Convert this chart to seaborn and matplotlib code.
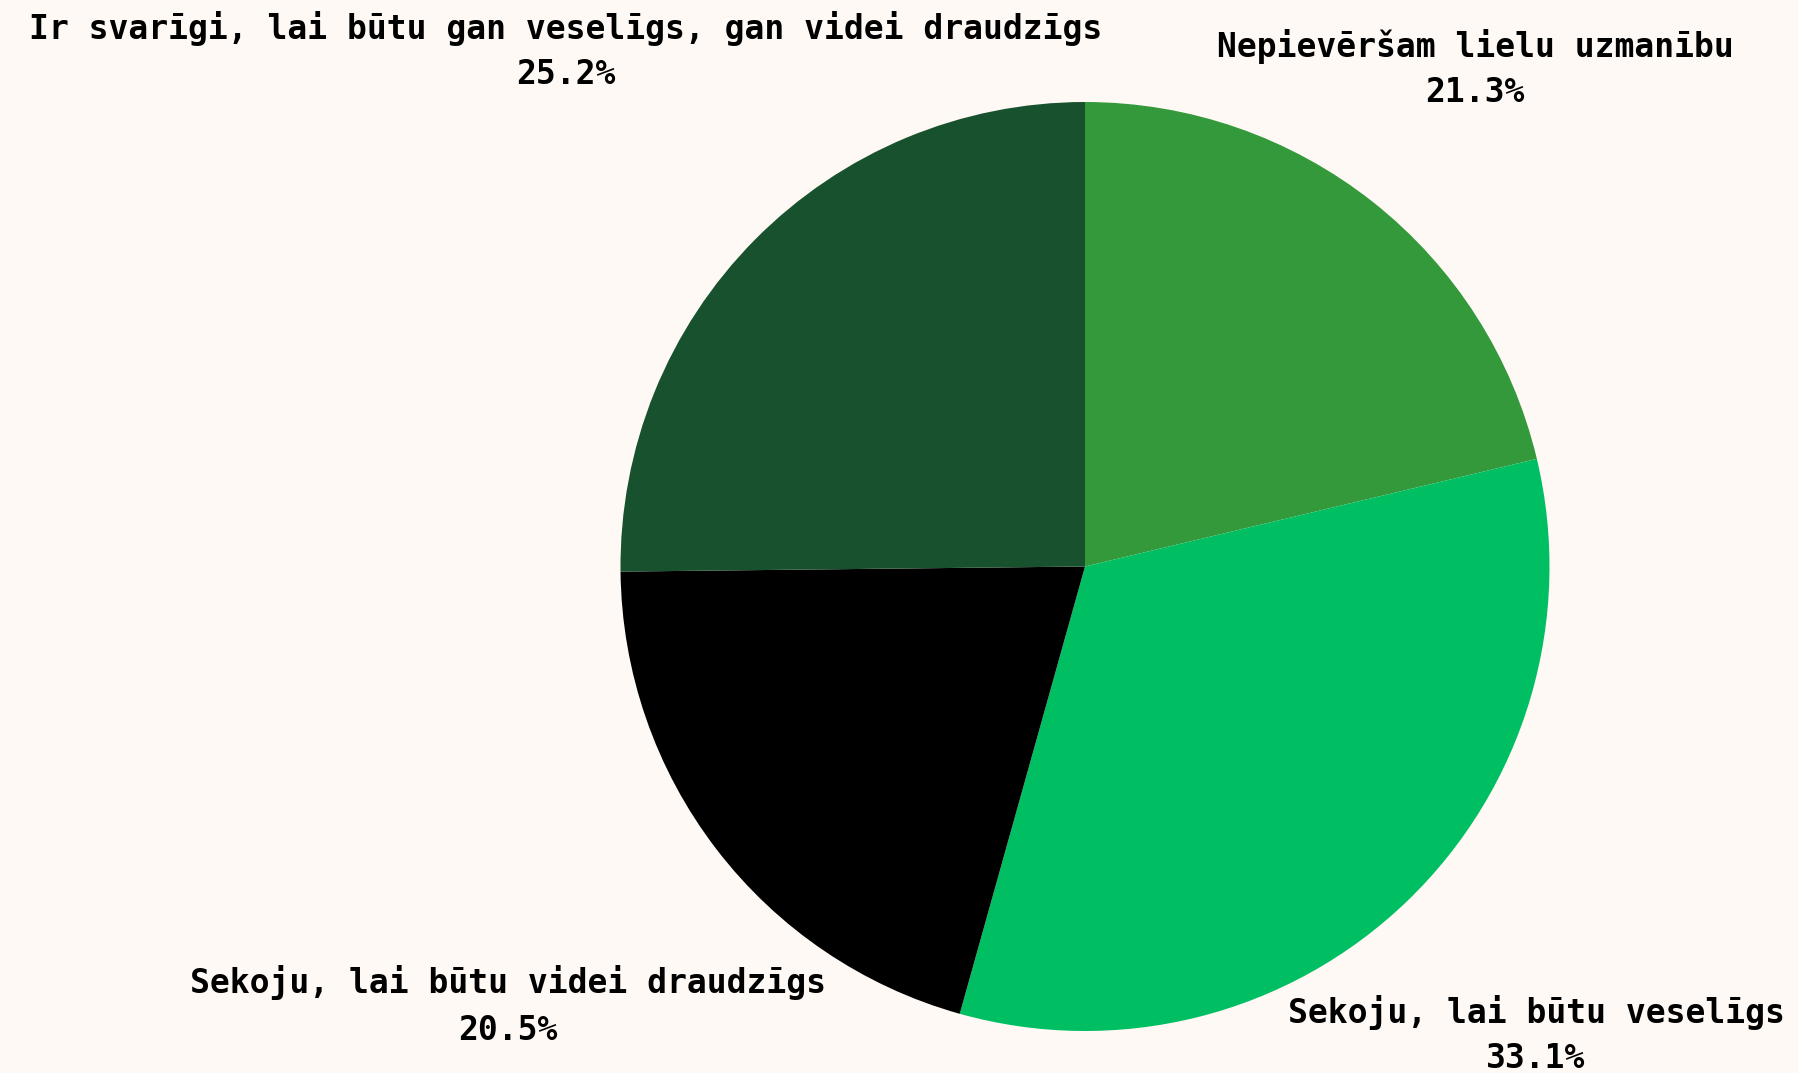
import matplotlib
matplotlib.use("Agg")
import matplotlib.pyplot as plt
import seaborn as sns

categories = ["Nepievēršam lielu uzmanību", "Sekoju, lai būtu veselīgs",
              "Sekoju, lai būtu videi draudzīgs",
              "Ir svarīgi, lai būtu gan veselīgs, gan videi draudzīgs"]
values = [21.3, 33.1, 20.5, 25.2]
colors = ["#33993a", "#00bf63", "#000000", "#18512d"]

# label anchor positions (pixels, from top-left)
label_pos = [(1475, 69), (1536, 1035), (508, 1006), (566, 51)]

sns.set_theme(style="white")
plt.rcParams["font.family"] = ["DejaVu Sans Mono", "DejaVu Sans"]

W, H = 1798, 1073
fig = plt.figure(figsize=(W / 100, H / 100), dpi=100)
bg = "#fef9f4"
fig.patch.set_facecolor(bg)
ax = fig.add_axes([0, 0, 1, 1])
ax.set_facecolor(bg)

cx, cy, r = 1085, 566.5, 464.5
ax.pie(values, colors=colors, startangle=90, counterclock=False,
       center=(cx, H - cy), radius=r, frame=True,
       wedgeprops=dict(linewidth=0))
ax.set_xlim(0, W)
ax.set_ylim(0, H)
ax.set_aspect("equal")
ax.axis("off")

for cat, v, (x, y) in zip(categories, values, label_pos):
    ax.text(x, H - y, f"{cat}\n{v:.1f}%", ha="center", va="center",
            fontsize=23.8, fontweight="bold", color="#000000",
            linespacing=1.5)

fig.savefig("out.png", dpi=100, facecolor=bg)
